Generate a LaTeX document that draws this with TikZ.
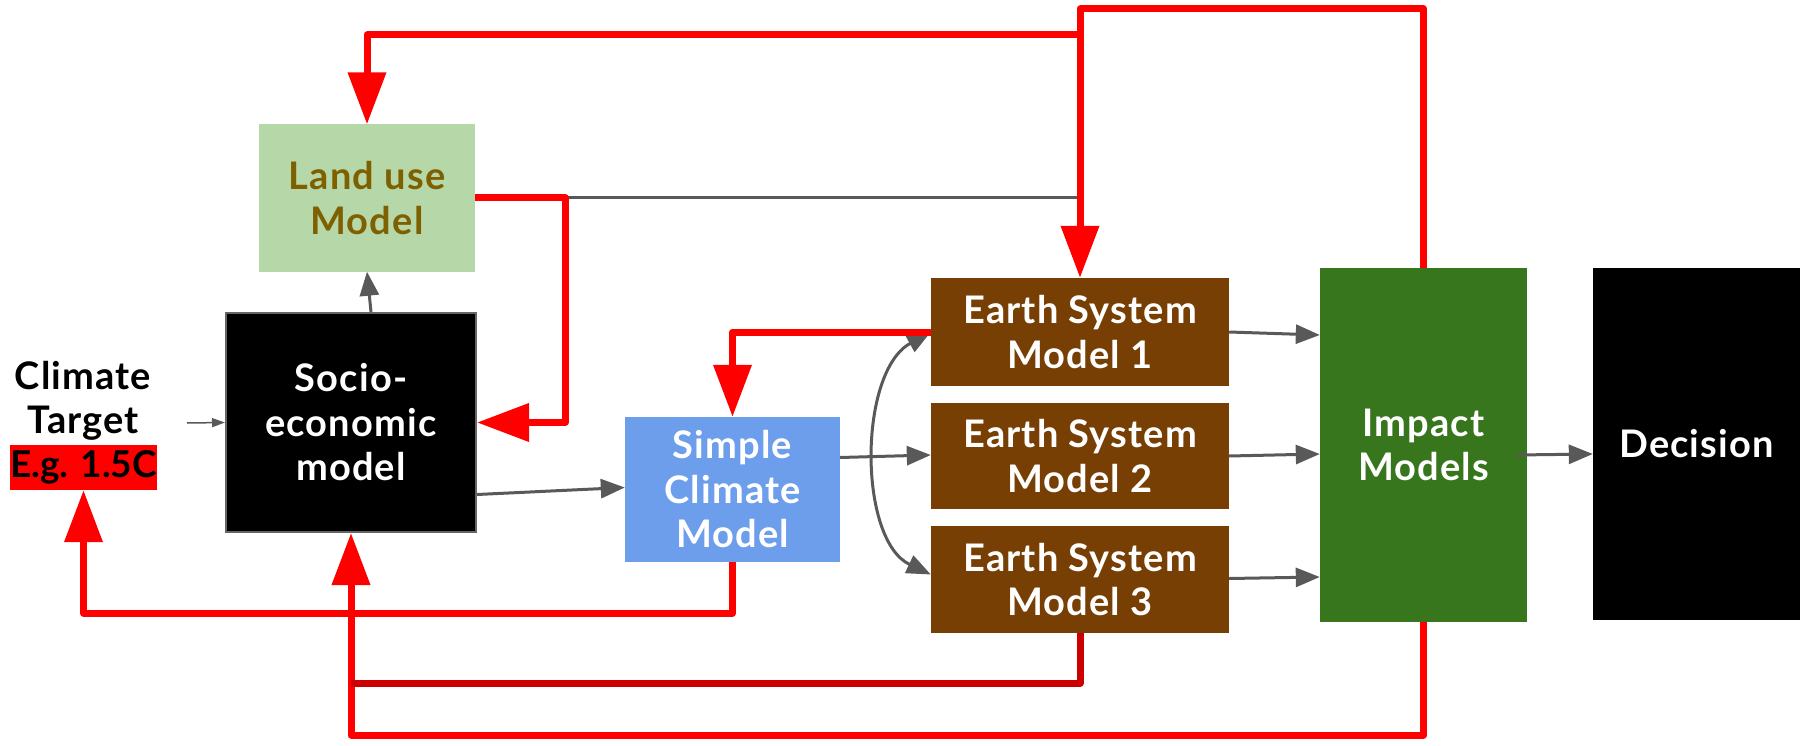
\documentclass[tikz,border=0pt]{standalone}
\usepackage{fontspec}
\setmainfont{Lato}[LetterSpace=3]
\newfontfamily\egfont{Lato}
\usetikzlibrary{arrows.meta,calc}
\definecolor{landfill}{HTML}{B6D7A8}
\definecolor{landtext}{HTML}{7F6000}
\definecolor{simplefill}{HTML}{6D9EEB}
\definecolor{esmfill}{HTML}{783F04}
\definecolor{impactfill}{HTML}{38761D}
\definecolor{grayline}{HTML}{595959}
\definecolor{redline}{HTML}{FF0000}
\definecolor{darkred}{HTML}{CC0000}
\definecolor{boxborder}{HTML}{666666}
\begin{document}
\begin{tikzpicture}[x=1pt,y=-1pt,
  box/.style={rectangle,inner sep=0pt,align=center,font=\fontsize{38}{44.5}\selectfont\bfseries},
  graylink/.style={draw=grayline,line width=3pt,-{Triangle[length=24pt,width=19pt]}},
  redlink/.style={draw=redline,line width=7pt,line join=round},
  redarrow/.style={redlink,-{Triangle[length=52pt,width=37pt]}}]
\useasboundingbox (0,0) rectangle (1806,746);
% nodes
\node[box,fill=landfill,text=landtext,minimum width=216pt,minimum height=147pt] (land) at (367,198) {Land use\\Model};
\node[box,fill=black,draw=boxborder,line width=2pt,text=white,minimum width=250pt,minimum height=219pt] (socio) at (351,422.5) {Socio-\\economic\\model};
\node[box,fill=simplefill,text=white,minimum width=215pt,minimum height=145pt] (simple) at (732.5,489.5) {Simple\\Climate\\Model};
\node[box,fill=esmfill,text=white,minimum width=298pt,minimum height=108pt] (esm1) at (1080,332) {Earth System\\Model 1};
\node[box,fill=esmfill,text=white,minimum width=298pt,minimum height=106pt] (esm2) at (1080,456) {Earth System\\Model 2};
\node[box,fill=esmfill,text=white,minimum width=298pt,minimum height=107pt] (esm3) at (1080,579.5) {Earth System\\Model 3};
\node[box,fill=impactfill,text=white,minimum width=207pt,minimum height=354pt] (impact) at (1423.5,445) {Impact\\Models};
\node[box,fill=black,text=white,minimum width=207pt,minimum height=352pt] (decision) at (1696.5,444) {Decision};
\node[box,text=black] (target) at (83,401) {Climate\\Target};
\node[box,fill=redline,text=black,minimum width=143pt,minimum height=45pt,font=\egfont\fontsize{37}{44}\selectfont\bfseries] (eg) at (83.5,467.5) {E.g. 1.5C};
% gray connectors
\coordinate (gj) at (1080,198);
\draw[draw=grayline,line width=3pt] (land.east) -- (gj);
\draw[draw=grayline,line width=1.5pt,-{Triangle[length=13pt,width=9pt]}] (187,423) -- (socio.west);
\draw[graylink] ($(socio.north)+(20,0)$) -- (land.south);
\draw[graylink] ($(socio.east)+(0,72)$) -- ($(simple.west)+(0,-2)$);
\draw[graylink] ($(simple.east)+(0,-32)$) -- ($(esm2.west)+(0,-1)$);
\draw[graylink,{Triangle[length=24pt,width=19pt]}-{Triangle[length=24pt,width=19pt]}] (esm1.west) .. controls (858,372) and (858,540) .. ($(esm3.west)+(0,-5)$);
\draw[graylink] ($(esm1.east)+(0,0)$) -- ($(impact.west)+(0,-110)$);
\draw[graylink] (esm2.east) -- ($(impact.west)+(0,9)$);
\draw[graylink] ($(esm3.east)+(0,-1)$) -- ($(impact.west)+(0,132)$);
\draw[graylink] ($(impact.east)+(-10,10)$) -- ($(decision.west)+(0,10)$);
% red connectors
\coordinate (tr) at (1423.5,9);
\coordinate (tl) at (1080,9);
\coordinate (br) at (1080,35);
\coordinate (bl) at (367,35);
\coordinate (lr1) at (565,198);
\coordinate (lr2) at (565,422.5);
\coordinate (sb) at (732.5,613);
\coordinate (sl) at (83.5,613);
\coordinate (e3b) at (1080,683);
\coordinate (e3l) at (351,683);
\coordinate (ib) at (1423.5,735);
\coordinate (il) at (351,735);
\draw[redarrow] (impact.north) -- (tr) -- (tl) -- (esm1.north);
\draw[redarrow] (br) -- (bl) -- (land.north);
\draw[redarrow] (land.east) -- (lr1) -- (lr2) -- (socio.east);
\draw[redarrow] (esm1.west) -| (simple.north);
\draw[redarrow] (simple.south) -- (sb) -- (sl) -- (eg.south);
\draw[redarrow] (impact.south) -- (ib) -- (il) -- (socio.south);
\draw[redlink,draw=darkred] (esm3.south) -- (e3b) -- (e3l);
\end{tikzpicture}
\end{document}
